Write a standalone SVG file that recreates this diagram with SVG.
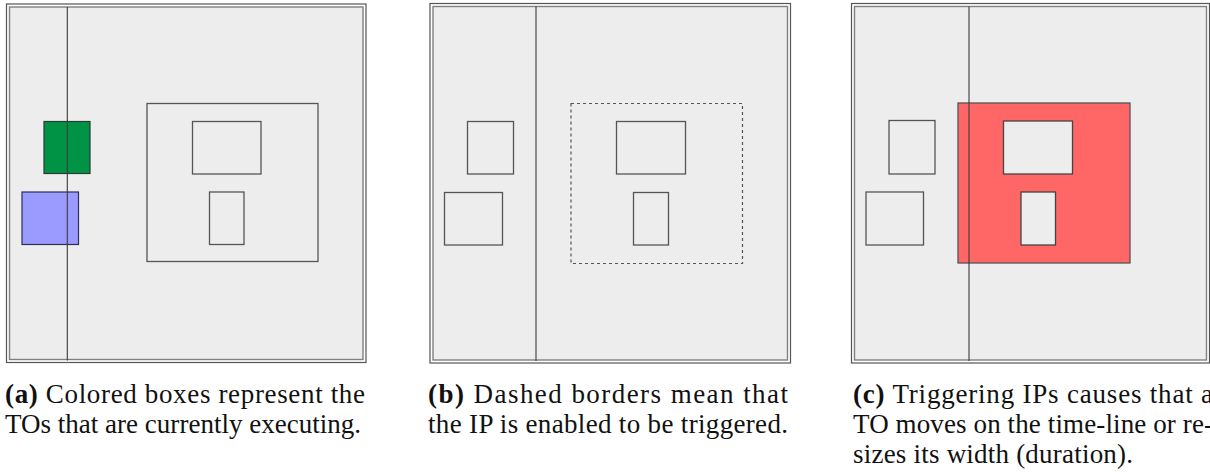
<svg xmlns="http://www.w3.org/2000/svg" width="1210" height="474" viewBox="0 0 1210 474">
  <style>
    .frame-o { fill: #ffffff; stroke: #555555; stroke-width: 1.2; }
    .frame-i { fill: #ededed; stroke: #808080; stroke-width: 1.4; }
    .box { fill: none; stroke: #555555; stroke-width: 1.3; }
    .hole { fill: #ededed; stroke: #444444; stroke-width: 1.3; }
    .dashed { fill: none; stroke: #555555; stroke-width: 1.2; stroke-dasharray: 3 3; }
    .tl { stroke: #3a3a3a; stroke-width: 1.1; }
    .cap { font-family: "Liberation Serif", "DejaVu Serif", serif; font-size: 27px; fill: #111111; }
    .b { font-weight: bold; }
  </style>

  <!-- Panel (a) -->
  <g id="panel-a">
    <rect class="frame-o" x="6.5" y="4" width="359.5" height="358.5"/>
    <rect class="frame-i" x="9.5" y="7" width="353.5" height="352.5"/>
    <g id="a-to-green"><rect x="44" y="121.5" width="46" height="52" fill="#009245" stroke="#2b3a33" stroke-width="1.2"/></g>
    <g id="a-to-blue"><rect x="22" y="192" width="56.5" height="52.5" fill="#9a9aff" stroke="#2e2e5a" stroke-width="1.2"/></g>
    <g id="a-ip"><rect class="box" x="147" y="103.5" width="171" height="158"/></g>
    <g id="a-box-top"><rect class="box" x="192.5" y="121.5" width="68.5" height="52.5"/></g>
    <g id="a-box-bottom"><rect class="box" x="209.5" y="192" width="34.5" height="52.5"/></g>
  </g>

  <!-- Panel (b) -->
  <g id="panel-b">
    <rect class="frame-o" x="430" y="3.5" width="360.5" height="359.5"/>
    <rect class="frame-i" x="433" y="6.5" width="354.5" height="353.5"/>
    <g id="b-to-1"><rect class="box" x="467.5" y="121.5" width="46" height="52.5"/></g>
    <g id="b-to-2"><rect class="box" x="444.5" y="192.5" width="58" height="52.5"/></g>
    <g id="b-ip"><rect class="dashed" x="571" y="103.5" width="171.5" height="160"/></g>
    <g id="b-box-top"><rect class="box" x="616.5" y="121.5" width="69" height="52.5"/></g>
    <g id="b-box-bottom"><rect class="box" x="633.5" y="192.5" width="35" height="52.5"/></g>
  </g>

  <!-- Panel (c) -->
  <g id="panel-c">
    <rect class="frame-o" x="851.5" y="3.5" width="358" height="359.5"/>
    <rect class="frame-i" x="854.5" y="6.5" width="352" height="353.5"/>
    <g id="c-to-1"><rect class="box" x="889" y="120.5" width="46" height="53.5"/></g>
    <g id="c-to-2"><rect class="box" x="866" y="192" width="57.5" height="53"/></g>
    <g id="c-ip"><rect x="958" y="103" width="172" height="160" fill="#ff6666" stroke="#555555" stroke-width="1.3"/></g>
    <g id="c-box-top"><rect class="hole" x="1003.5" y="121" width="69" height="53"/></g>
    <g id="c-box-bottom"><rect class="hole" x="1021" y="192" width="34.5" height="53"/></g>
  </g>

  <!-- time-lines -->
  <g id="connectors">
    <line class="tl" x1="67.3" y1="7" x2="67.3" y2="360.5"/>
    <line class="tl" x1="536" y1="6.5" x2="536" y2="361"/>
    <line class="tl" x1="969" y1="6.5" x2="969" y2="361"/>
  </g>

  <!-- captions -->
  <g id="captions">
    <text class="cap" x="5" y="403" textLength="360" lengthAdjust="spacing"><tspan class="b">(a)</tspan> Colored boxes represent the</text>
    <text class="cap" x="5" y="433" textLength="356" lengthAdjust="spacing">TOs that are currently executing.</text>
    <text class="cap" x="428" y="403" textLength="360" lengthAdjust="spacing"><tspan class="b">(b)</tspan> Dashed borders mean that</text>
    <text class="cap" x="428" y="433" textLength="360" lengthAdjust="spacing">the IP is enabled to be triggered.</text>
    <text class="cap" x="853" y="403" textLength="360" lengthAdjust="spacing"><tspan class="b">(c)</tspan> Triggering IPs causes that a</text>
    <text class="cap" x="853" y="433" textLength="360" lengthAdjust="spacing">TO moves on the time-line or re-</text>
    <text class="cap" x="853" y="463" textLength="280" lengthAdjust="spacing">sizes its width (duration).</text>
  </g>
</svg>
